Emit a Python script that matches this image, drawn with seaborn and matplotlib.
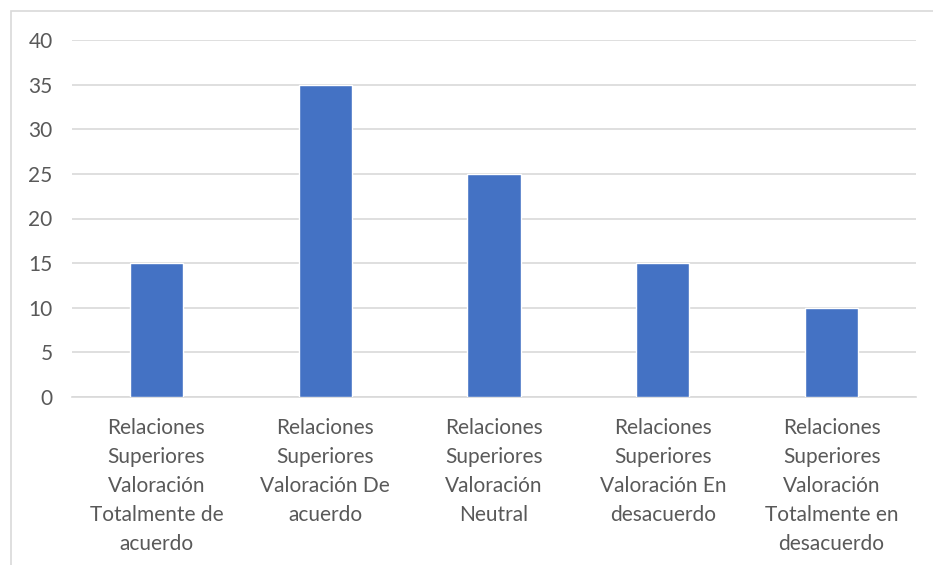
import matplotlib
matplotlib.use("Agg")
import matplotlib.pyplot as plt
import matplotlib.patches as mpatches
import seaborn as sns
import pandas as pd

categories = [
    "Relaciones\nSuperiores\nValoración\nTotalmente de\nacuerdo",
    "Relaciones\nSuperiores\nValoración De\nacuerdo",
    "Relaciones\nSuperiores\nValoración\nNeutral",
    "Relaciones\nSuperiores\nValoración En\ndesacuerdo",
    "Relaciones\nSuperiores\nValoración\nTotalmente en\ndesacuerdo",
]
values = [15, 35, 25, 15, 10]
yticks = [0, 5, 10, 15, 20, 25, 30, 35, 40]

sns.set_theme(style="white")
plt.rcParams['font.family'] = ['Lato', 'DejaVu Sans']

df = pd.DataFrame({"cat": categories, "val": values})

fig = plt.figure(figsize=(9.33, 5.65), dpi=100)
ax = fig.add_axes([72 / 933, 1 - 397 / 565, (916 - 72) / 933, (397 - 40) / 565])

# outer chart-area border (Excel style)
fig.patches.append(mpatches.Rectangle((10.5 / 933, -0.05), 1.0, 1 - 10.5 / 565 + 0.05,
                                      transform=fig.transFigure, fill=False,
                                      edgecolor="#d9d9d9", linewidth=1.2, zorder=0))

sns.barplot(data=df, x="cat", y="val", color="#4472c4", width=0.315,
            saturation=1, ax=ax, zorder=3)

ax.set_ylim(0, 40)
ax.set_yticks(yticks)
ax.yaxis.grid(True, color="#d9d9d9", linewidth=1.2)
ax.set_axisbelow(True)
for s in ["top", "right", "left"]:
    ax.spines[s].set_visible(False)
ax.spines["bottom"].set_color("#d9d9d9")
ax.spines["bottom"].set_linewidth(1.2)
ax.set_xlabel("")
ax.set_ylabel("")
ax.tick_params(axis="both", length=0, colors="#595959", labelsize=15)
ax.tick_params(axis="y", pad=14)
ax.tick_params(axis="x", pad=15)
for lbl in ax.get_xticklabels():
    lbl.set_linespacing(1.56)
    lbl.set_va("top")

fig.savefig("out.png", dpi=100, facecolor="white")
